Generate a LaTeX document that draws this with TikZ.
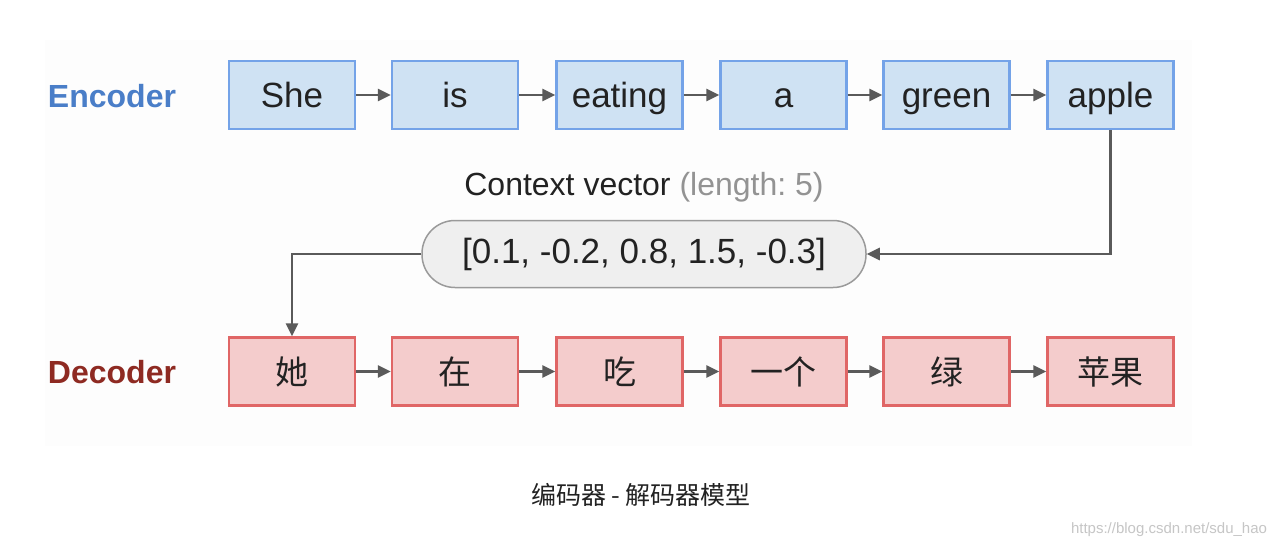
\documentclass[tikz,border=0pt]{standalone}
\usepackage{fontspec}
\setmainfont{Liberation Sans}
\newfontfamily\cjk{Noto Sans CJK SC}
\usetikzlibrary{arrows.meta}
\frenchspacing
\definecolor{encfill}{HTML}{CFE2F3}
\definecolor{encdraw}{HTML}{74A3E8}
\definecolor{decfill}{HTML}{F4CCCC}
\definecolor{decdraw}{HTML}{E06666}
\definecolor{enclab}{HTML}{4A7EC8}
\definecolor{declab}{HTML}{8E2A22}
\definecolor{arr}{HTML}{5A5A5A}
\definecolor{pillfill}{HTML}{EFEFEF}
\definecolor{pilldraw}{HTML}{9A9A9A}
\definecolor{txt}{HTML}{222222}
\definecolor{panel}{HTML}{FDFDFD}
\begin{document}
\begin{tikzpicture}[x=1pt,y=-1pt,
  wordbox/.style={line width=2.5pt, minimum width=126pt, minimum height=68pt,
    inner sep=0pt, text=txt},
  encbox/.style={wordbox, draw=encdraw, fill=encfill, font=\fontsize{35}{40}\selectfont,
    text height=25pt, text depth=0pt},
  decbox/.style={wordbox, draw=decdraw, fill=decfill, font=\cjk\fontsize{33}{38}\selectfont},
  rowlabel/.style={font=\bfseries\fontsize{32}{36}\selectfont},
  conn/.style={draw=arr, line width=2.8pt, -{Triangle[length=13pt,width=12pt]}},
  pill/.style={draw=pilldraw, fill=pillfill, line width=1.5pt, rounded corners=33pt,
    minimum width=444pt, minimum height=67pt, inner sep=0pt, text=txt,
    font=\fontsize{35}{40}\selectfont}]
\useasboundingbox[fill=white] (0,0) rectangle (1282,552);
\fill[panel] (45,40) rectangle (1192,446);

% labels
\node[rowlabel, text=enclab] (enclab) at (112,96) {Encoder};
\node[rowlabel, text=declab] (declab) at (112,372) {Decoder};

% encoder boxes
\node[encbox] (e1) at (292,95) {She};
\node[encbox] (e2) at (455,95) {is};
\node[encbox] (e3) at (619.5,95) {eating};
\node[encbox] (e4) at (783.5,95) {a};
\node[encbox] (e5) at (946.5,95) {green};
\node[encbox] (e6) at (1110.5,95) {apple};

% decoder boxes
\node[decbox] (d1) at (292,371.5) {她};
\node[decbox] (d2) at (455,371.5) {在};
\node[decbox] (d3) at (619.5,371.5) {吃};
\node[decbox] (d4) at (783.5,371.5) {一个};
\node[decbox] (d5) at (946.5,371.5) {绿};
\node[decbox] (d6) at (1110.5,371.5) {苹果};

% context vector
\node[font=\fontsize{32}{36}\selectfont, text=txt] (ctxlab) at (644,187)
  {Context vector \textcolor{gray!85}{(length: 5)}};
\node[pill] (pill) at (644,254) {[0.1, -0.2, 0.8, 1.5, -0.3]};

% chain arrows
\foreach \a/\b in {e1/e2,e2/e3,e3/e4,e4/e5,e5/e6,d1/d2,d2/d3,d3/d4,d4/d5,d5/d6}
  \draw[conn] (\a.east) -- (\b.west);

\draw[conn] (e6.south) |- (pill.east);
\draw[conn] (pill.west) -| (d1.north);

% caption and watermark
\node[font=\cjk\fontsize{25}{30}\selectfont, text=txt] (cap) at (641,495) {编码器~-~解码器模型};
\node[font=\fontsize{15}{18}\selectfont, text=gray!45] (wm) at (1169,530) {https://blog.csdn.net/sdu\_hao};
\end{tikzpicture}
\end{document}
